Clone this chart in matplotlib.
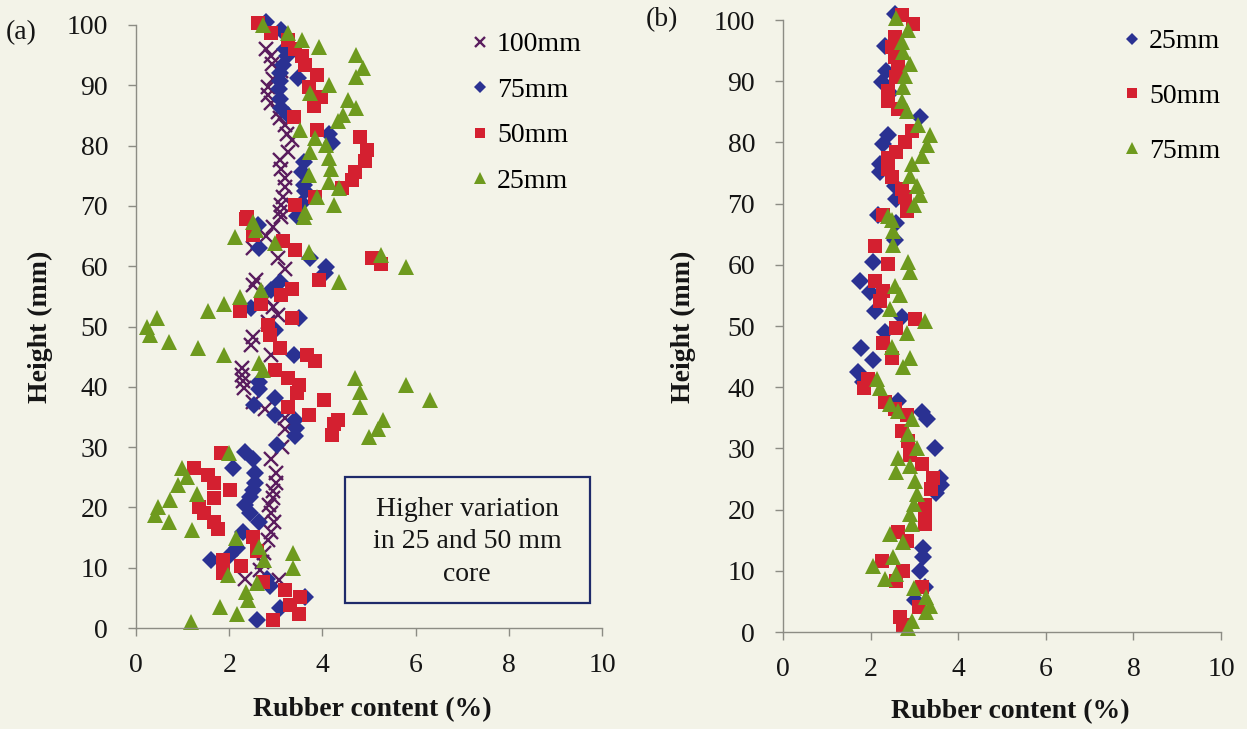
import matplotlib
matplotlib.use("Agg")
import matplotlib.pyplot as plt
from matplotlib.patches import Rectangle

plt.rcParams['font.family'] = ['Liberation Serif', 'DejaVu Serif']

# ---------------- Panel (a) data: (height mm, rubber content %) ----------------
a100_h = [96.1, 94.8, 93.6, 92.3, 91.0, 89.8, 88.4, 87.0, 85.6, 84.5, 83.4, 82.0, 80.9, 79.0, 77.6,
          76.2, 74.6, 73.2, 71.5, 70.2, 69.0, 68.2, 66.5, 65.0, 63.0, 61.3, 59.6, 57.7, 56.9, 54.5,
          53.2, 51.9, 50.8, 48.3, 47.0, 45.3, 43.1, 42.0, 40.9, 39.8, 37.5, 36.4, 34.8, 33.0, 30.0,
          28.1, 25.7, 24.0, 22.8, 21.5, 20.4, 19.0, 17.6, 16.0, 14.6, 12.5, 11.0, 9.6, 8.2, 8.0]
a100_v = [2.79, 2.90, 2.92, 3.12, 2.95, 2.83, 2.83, 2.90, 3.05, 3.10, 3.19, 3.25, 3.34, 3.27, 3.09,
          3.12, 3.19, 3.19, 3.15, 3.12, 3.09, 3.12, 2.95, 2.80, 2.50, 3.05, 3.19, 2.57, 2.50, 2.80,
          2.95, 3.05, 2.83, 2.50, 2.46, 2.90, 2.28, 2.28, 2.30, 2.32, 2.50, 2.76, 3.19, 3.20, 3.14,
          2.89, 3.00, 3.00, 2.95, 2.93, 2.85, 2.89, 2.96, 2.90, 2.83, 2.75, 2.70, 2.67, 2.34, 3.07]

a75_h = [100.5, 99.2, 96.1, 94.8, 93.4, 92.1, 91.2, 90.7, 89.4, 87.7, 86.3, 85.0, 82.0, 80.4, 77.3,
         75.7, 73.5, 72.4, 70.4, 68.4, 66.8, 63.0, 61.3, 59.9, 58.9, 57.4, 56.0, 53.0, 51.4, 49.4,
         45.3, 40.8, 39.7, 38.1, 37.0, 35.3, 34.5, 33.1, 31.8, 30.3, 29.2, 28.1, 26.5, 25.7, 24.0,
         22.9, 21.8, 20.4, 19.0, 17.6, 16.0, 13.2, 12.1, 11.3, 8.2, 7.0, 5.2, 3.3, 1.3]
a75_v = [2.80, 3.12, 3.19, 3.23, 3.16, 3.10, 3.47, 3.09, 3.07, 3.09, 3.12, 3.27, 4.14, 4.20, 3.60,
         3.56, 3.60, 3.63, 3.56, 3.45, 2.61, 2.65, 3.74, 4.07, 4.06, 3.09, 2.90, 2.46, 3.49, 2.98,
         3.38, 2.65, 2.65, 2.98, 2.54, 2.98, 3.41, 3.44, 3.42, 3.03, 2.34, 2.52, 2.08, 2.56, 2.56,
         2.52, 2.45, 2.34, 2.45, 2.63, 2.30, 2.16, 2.01, 1.61, 2.81, 2.87, 3.62, 3.10, 2.60]

a50_h = [100.3, 98.6, 97.5, 96.1, 94.8, 93.4, 91.7, 89.8, 88.1, 86.5, 84.8, 82.6, 81.5, 79.3, 77.4,
         75.7, 74.3, 72.9, 71.5, 70.1, 68.2, 67.9, 65.2, 64.1, 62.7, 61.3, 60.3, 57.7, 56.3, 55.2,
         53.8, 52.5, 51.4, 50.2, 48.6, 46.4, 45.3, 44.2, 42.8, 41.4, 40.3, 38.9, 37.8, 36.7, 35.3,
         34.5, 33.9, 32.0, 29.0, 26.5, 25.4, 24.0, 22.9, 21.5, 20.1, 19.0, 17.6, 16.5, 15.1, 12.7,
         11.3, 10.2, 9.1, 7.7, 6.3, 5.2, 3.8, 2.4, 1.3]
a50_v = [2.61, 2.90, 3.27, 3.41, 3.56, 3.63, 3.89, 3.71, 3.96, 3.82, 3.38, 3.89, 4.80, 4.95, 4.92,
         4.69, 4.63, 4.41, 3.85, 3.41, 2.39, 2.35, 2.50, 3.16, 3.41, 5.06, 5.25, 3.93, 3.34, 3.12,
         2.68, 2.24, 3.34, 2.83, 2.87, 3.09, 3.67, 3.85, 2.98, 3.27, 3.49, 3.45, 4.04, 3.27, 3.71,
         4.33, 4.24, 4.20, 1.83, 1.25, 1.54, 1.68, 2.01, 1.68, 1.36, 1.46, 1.68, 1.75, 2.52, 2.59,
         1.86, 2.26, 1.86, 2.73, 3.20, 3.53, 3.31, 3.49, 2.95]

a25_h = [100.0, 98.6, 97.5, 96.4, 95.0, 92.8, 91.4, 90.0, 88.7, 87.6, 86.2, 85.1, 84.0, 82.6, 81.2,
         80.1, 79.0, 77.9, 76.2, 75.1, 74.0, 72.9, 71.5, 70.1, 69.0, 68.2, 67.4, 66.0, 64.9, 63.8,
         62.4, 61.9, 59.9, 57.4, 56.0, 54.9, 53.8, 52.5, 51.4, 50.0, 48.6, 47.5, 46.4, 45.3, 43.9,
         42.8, 41.4, 40.3, 39.2, 37.8, 36.7, 34.5, 33.0, 31.7, 29.0, 26.5, 25.1, 23.7, 22.3, 21.2,
         20.1, 18.7, 17.6, 16.3, 14.9, 13.5, 12.4, 11.3, 9.9, 8.8, 7.4, 6.0, 4.6, 3.5, 2.4, 1.0]
a25_v = [2.72, 3.27, 3.56, 3.93, 4.73, 4.88, 4.73, 4.14, 3.74, 4.55, 4.73, 4.44, 4.33, 3.52, 3.85,
         4.07, 3.74, 4.14, 4.18, 3.71, 4.14, 4.36, 3.89, 4.25, 3.63, 3.60, 2.50, 2.57, 2.13, 2.98,
         3.71, 5.26, 5.79, 4.36, 2.68, 2.24, 1.88, 1.55, 0.45, 0.23, 0.31, 0.71, 1.33, 1.88, 2.65,
         2.72, 4.69, 5.80, 4.80, 6.30, 4.80, 5.30, 5.20, 5.00, 2.00, 0.99, 1.10, 0.91, 1.31, 0.74,
         0.48, 0.41, 0.70, 1.20, 2.15, 2.63, 3.36, 2.74, 3.36, 1.97, 2.59, 2.37, 2.41, 1.80, 2.16, 1.18]

# ---------------- Panel (b) data ----------------
b25_h = [101.0, 95.8, 91.7, 89.8, 88.1, 84.2, 81.2, 79.8, 76.5, 75.1, 72.9, 70.7, 68.2, 66.8, 64.0,
         60.5, 57.4, 55.5, 52.5, 51.4, 49.1, 46.4, 44.5, 42.5, 40.9, 37.8, 35.9, 34.8, 30.1, 25.2,
         24.0, 22.7, 13.8, 12.2, 10.0, 7.3, 5.2]
b25_v = [2.55, 2.33, 2.36, 2.25, 2.44, 3.13, 2.40, 2.29, 2.21, 2.21, 2.56, 2.59, 2.17, 2.59, 2.55,
         2.06, 1.75, 1.98, 2.10, 2.71, 2.33, 1.79, 2.06, 1.72, 1.83, 2.63, 3.17, 3.28, 3.47, 3.59,
         3.60, 3.50, 3.20, 3.20, 3.13, 3.24, 3.02]

b50_h = [100.8, 99.4, 97.2, 95.6, 94.0, 92.3, 90.7, 88.4, 86.7, 85.4, 81.8, 80.1, 78.5, 77.4, 75.7,
         74.3, 72.4, 71.0, 68.8, 68.2, 63.0, 60.2, 57.4, 55.7, 54.1, 51.1, 49.7, 47.2, 44.8, 41.4,
         39.8, 37.6, 36.5, 35.4, 32.8, 31.2, 29.0, 27.4, 25.2, 23.3, 20.8, 19.2, 17.6, 16.3, 14.9,
         11.6, 10.0, 8.3, 7.3, 4.1, 2.4, 1.1]
b50_v = [2.71, 2.97, 2.55, 2.48, 2.55, 2.63, 2.59, 2.40, 2.40, 2.63, 2.94, 2.78, 2.59, 2.40, 2.40,
         2.48, 2.71, 2.78, 2.82, 2.29, 2.10, 2.40, 2.10, 2.29, 2.21, 3.01, 2.59, 2.29, 2.48, 1.94,
         1.86, 2.33, 2.55, 2.82, 2.71, 2.86, 2.90, 3.17, 3.43, 3.39, 3.24, 3.24, 3.24, 2.63, 2.82,
         2.25, 2.75, 2.59, 3.17, 3.10, 2.67, 2.75]

b75_h = [100.3, 98.3, 96.4, 94.7, 92.8, 90.9, 89.0, 86.7, 85.1, 82.9, 81.2, 79.5, 77.8, 76.5, 74.5,
         72.9, 71.4, 69.8, 67.9, 67.4, 65.5, 63.2, 60.5, 58.8, 56.6, 55.0, 52.8, 50.8, 48.8, 46.6,
         44.7, 43.3, 41.4, 39.8, 37.3, 36.1, 34.8, 32.3, 30.1, 28.5, 27.2, 26.1, 24.7, 22.5, 20.9,
         19.3, 17.6, 16.0, 14.7, 12.2, 10.8, 9.4, 8.6, 7.2, 5.8, 4.2, 3.3, 1.8, 0.7]
b75_v = [2.59, 2.86, 2.71, 2.75, 2.90, 2.78, 2.75, 2.71, 2.82, 3.09, 3.36, 3.28, 3.17, 2.94, 2.90,
         3.05, 3.13, 2.98, 2.40, 2.48, 2.51, 2.51, 2.86, 2.90, 2.56, 2.67, 2.44, 3.24, 2.82, 2.48,
         2.90, 2.75, 2.14, 2.21, 2.44, 2.63, 2.94, 2.86, 3.05, 2.63, 2.90, 2.59, 3.01, 3.05, 2.98,
         2.90, 2.94, 2.44, 2.75, 2.52, 2.06, 2.59, 2.33, 2.98, 3.26, 3.36, 3.26, 2.94, 2.86]

x_ticks = [0, 2, 4, 6, 8, 10]
y_ticks = [0, 10, 20, 30, 40, 50, 60, 70, 80, 90, 100]

BG = '#f3f3e8'
C_CROSS = '#5a1d5e'
C_DIAM = '#2a3192'
C_SQ = '#d42030'
C_TRI = '#6e9a1e'
FS = 20

W, H = 1247, 729
fig = plt.figure(figsize=(W / 100, H / 100), dpi=100, facecolor=BG)


def px_axes(x0, x1, y_top, y_bot):
    return [x0 / W, 1 - y_bot / H, (x1 - x0) / W, (y_bot - y_top) / H]


def style(ax):
    ax.set_facecolor('none')
    ax.set_xlim(0, 10)
    ax.set_ylim(0, 100)
    ax.set_xticks(x_ticks)
    ax.set_yticks(y_ticks)
    for s in ['top', 'right']:
        ax.spines[s].set_visible(False)
    for s in ['left', 'bottom']:
        ax.spines[s].set_color('#8c8c84')
        ax.spines[s].set_linewidth(1.0)
    ax.tick_params(axis='both', direction='out', length=6, width=1.0, color='#8c8c84',
                   labelsize=FS, labelcolor='#151515')
    ax.tick_params(axis='x', pad=12)
    ax.tick_params(axis='y', pad=14)


MS_X, MS_D, MS_S, MS_T = 10, 9, 10, 12

axA = fig.add_axes(px_axes(136, 602, 25, 628))
style(axA)
axA.plot(a100_v, a100_h, linestyle='none', marker='x', ms=MS_X, mew=1.7, color=C_CROSS, label='100mm', clip_on=False)
axA.plot(a75_v, a75_h, linestyle='none', marker='D', ms=MS_D, mew=0, color=C_DIAM, label='75mm', clip_on=False)
axA.plot(a50_v, a50_h, linestyle='none', marker='s', ms=MS_S, mew=0, color=C_SQ, label='50mm', clip_on=False)
axA.plot(a25_v, a25_h, linestyle='none', marker='^', ms=MS_T, mew=0, color=C_TRI, label='25mm', clip_on=False)
legA = axA.legend(loc='upper left', bbox_to_anchor=(458 / W, 1 - 18 / H), bbox_transform=fig.transFigure,
                  frameon=False, fontsize=FS, markerscale=0.7, handlelength=0.6, handletextpad=0.3,
                  labelspacing=0.72, borderpad=0)

# annotation box
fig.patches.append(Rectangle((345 / W, 1 - 603 / H), 245 / W, 126 / H, transform=fig.transFigure,
                             fill=False, edgecolor='#1e2a6a', linewidth=1.6))
fig.text(467 / W, 1 - 542 / H, 'Higher variation\nin 25 and 50 mm\ncore', ha='center', va='center',
         fontsize=FS, linespacing=1.38, color='#151515')

axB = fig.add_axes(px_axes(783, 1221, 20, 632))
style(axB)
axB.plot(b25_v, b25_h, linestyle='none', marker='D', ms=MS_D, mew=0, color=C_DIAM, label='25mm', clip_on=False)
axB.plot(b50_v, b50_h, linestyle='none', marker='s', ms=MS_S, mew=0, color=C_SQ, label='50mm', clip_on=False)
axB.plot(b75_v, b75_h, linestyle='none', marker='^', ms=MS_T, mew=0, color=C_TRI, label='75mm', clip_on=False)
legB = axB.legend(loc='upper left', bbox_to_anchor=(1110 / W, 1 - 15 / H), bbox_transform=fig.transFigure,
                  frameon=False, fontsize=FS, markerscale=0.7, handlelength=0.6, handletextpad=0.3,
                  labelspacing=1.05, borderpad=0)

# axis labels
fig.text(40 / W, 1 - 327 / H, 'Height (mm)', rotation=90, ha='center', va='center', fontsize=FS,
         fontweight='bold', color='#151515')
fig.text(372 / W, 1 - 710 / H, 'Rubber content (%)', ha='center', va='center', fontsize=FS,
         fontweight='bold', color='#151515')
fig.text(683 / W, 1 - 327 / H, 'Height (mm)', rotation=90, ha='center', va='center', fontsize=FS,
         fontweight='bold', color='#151515')
fig.text(1010 / W, 1 - 712 / H, 'Rubber content (%)', ha='center', va='center', fontsize=FS,
         fontweight='bold', color='#151515')

# panel labels
fig.text(6 / W, 1 - 33 / H, '(a)', ha='left', va='center', fontsize=FS, color='#151515')
fig.text(646 / W, 1 - 20 / H, '(b)', ha='left', va='center', fontsize=FS, color='#151515')

fig.savefig('out.png', dpi=100, facecolor=BG)
